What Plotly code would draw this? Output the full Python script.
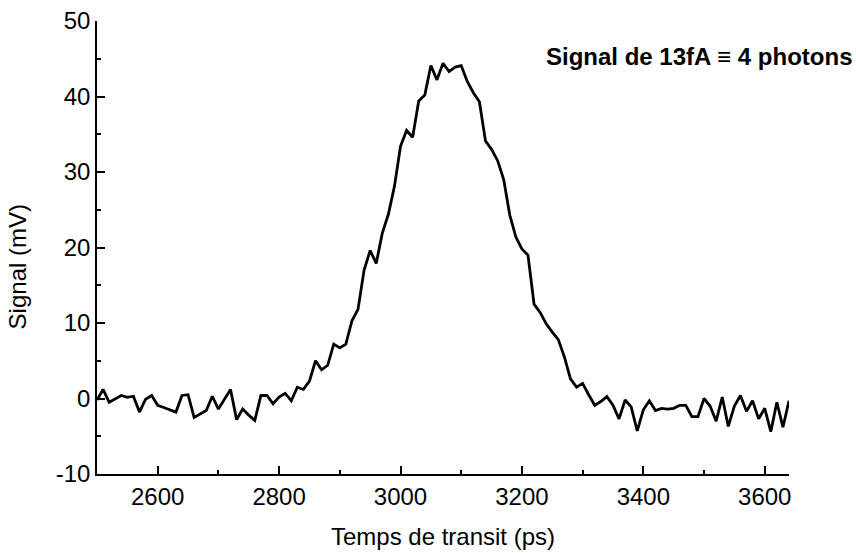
import plotly.graph_objects as go

# Transit time (ps) and signal (mV)
time_ps = list(range(2500, 3641, 10))
signal_mv = [
    -0.2, 1.2, -0.5, 0.0, 0.4, 0.15, 0.3, -1.8, -0.1, 0.4,
    -0.9, -1.2, -1.5, -1.8, 0.4, 0.5, -2.5, -2.0, -1.6, 0.3,
    -1.4, -0.1, 1.2, -2.8, -1.4, -2.2, -2.9, 0.4, 0.4, -0.7,
    0.2, 0.7, -0.3, 1.5, 1.2, 2.3, 5.0, 3.8, 4.4, 7.2,
    6.7, 7.2, 10.3, 11.8, 17.0, 19.6, 17.9, 21.9, 24.4, 28.1,
    33.4, 35.5, 34.6, 39.4, 40.2, 44.1, 42.2, 44.4, 43.3, 43.9,
    44.1, 42.0, 40.5, 39.3, 34.1, 33.0, 31.5, 29.0, 24.3, 21.4,
    19.8, 19.0, 12.5, 11.4, 9.9, 8.8, 7.8, 5.5, 2.6, 1.5,
    2.0, 0.5, -0.9, -0.4, 0.25, -0.9, -2.7, -0.2, -1.1, -4.3,
    -1.5, -0.3, -1.6, -1.3, -1.4, -1.3, -0.9, -0.9, -2.4, -2.4,
    0.0, -1.0, -3.0, 0.2, -3.7, -1.0, 0.4, -1.7, -0.3, -2.7,
    -1.3, -4.4, -0.5, -3.8, -0.3,
]

x_ticks = [2600, 2800, 3000, 3200, 3400, 3600]
x_minor = [2700, 2900, 3100, 3300, 3500]
y_ticks = [-10, 0, 10, 20, 30, 40, 50]
y_tick_text = ["-10", "0", "10", "20", "30", "40", "50"]
y_minor = [-5, 5, 15, 25, 35, 45]

x_title = "Temps de transit (ps)"
y_title = "Signal (mV)"
note = "<b>Signal de 13fA \u2261 4 photons</b>"

FONT = "Liberation Sans, Arial, sans-serif"

fig = go.Figure()
fig.add_trace(go.Scatter(
    x=time_ps, y=signal_mv, mode="lines",
    line=dict(color="black", width=2.8),
    showlegend=False,
))

axis_common = dict(
    showline=True, linecolor="black", linewidth=1.5,
    ticks="inside", ticklen=8, tickwidth=1.5, tickcolor="black",
    showgrid=False, zeroline=False, mirror=False, automargin=False,
    tickfont=dict(family=FONT, size=24, color="black"),
)

fig.update_xaxes(
    range=[2500, 3640], tickvals=x_ticks,
    minor=dict(ticks="inside", ticklen=4, tickwidth=1.5, tickcolor="black",
               tickvals=x_minor),
    title=dict(text=x_title, font=dict(family=FONT, size=24, color="black"), standoff=20),
    **axis_common,
)
fig.update_yaxes(
    range=[-10, 50], tickvals=y_ticks, ticktext=y_tick_text,
    minor=dict(ticks="inside", ticklen=4, tickwidth=1.5, tickcolor="black",
               tickvals=y_minor),
    **axis_common,
)

fig.add_annotation(
    text=y_title, xref="paper", yref="paper", x=-0.1146, y=0.4576,
    xanchor="center", yanchor="middle", textangle=-90, showarrow=False,
    font=dict(family=FONT, size=24, color="black"),
)
fig.add_annotation(
    text=note, xref="paper", yref="paper", x=1.094, y=0.921,
    xanchor="right", yanchor="middle", showarrow=False,
    font=dict(family=FONT, size=24, color="black"),
)

fig.update_layout(
    width=856, height=553,
    margin=dict(l=97, r=67, t=21, b=79),
    plot_bgcolor="white", paper_bgcolor="white",
    template="none",
)

fig.write_html("out.html", config={"displayModeBar": False},
               post_script="document.body.style.margin='0';")
